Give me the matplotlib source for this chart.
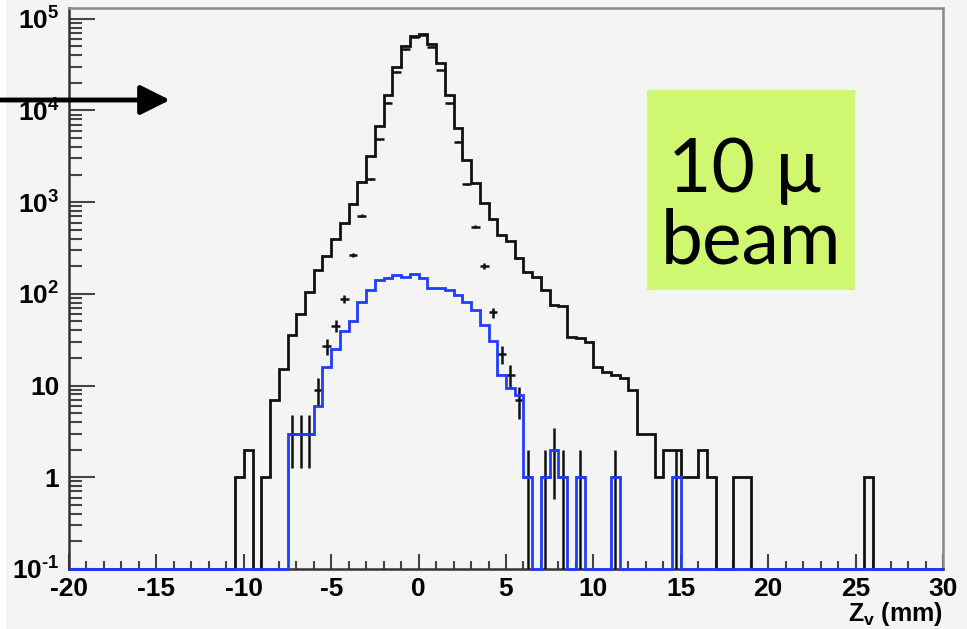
import numpy as np
import matplotlib.pyplot as plt
import matplotlib as mpl
from matplotlib.patches import Rectangle
from matplotlib.ticker import MultipleLocator, LogLocator, NullFormatter

mpl.rcParams['font.family'] = ['Liberation Sans', 'DejaVu Sans']
mpl.rcParams['mathtext.fontset'] = 'custom'
mpl.rcParams['mathtext.rm'] = 'Liberation Sans:bold'
mpl.rcParams['mathtext.it'] = 'Liberation Sans:bold'
mpl.rcParams['mathtext.bf'] = 'Liberation Sans:bold'

# binning: 100 bins of 0.5 mm between -20 and 30
edges = np.linspace(-20, 30, 101)

# all vertices (black histogram), bins 0..99
black_counts = np.zeros(100)
black_counts[19:78] = [1, 2, 0, 1, 7, 15, 36, 61, 106, 182,
                       259, 394, 589, 955, 1675, 3190, 6780, 14760, 30060, 50500,
                       64900, 68200, 52700, 32700, 14760, 6490, 2890, 1607, 989, 650,
                       439, 380, 244, 175, 154, 110, 76, 73, 34, 33,
                       30, 16, 14, 13, 12, 9, 3, 3, 1, 2,
                       2, 1, 1, 2, 1, 0, 0, 1, 1]
black_counts[91] = 1

# blue histogram, bins 0..99
blue_counts = np.zeros(100)
blue_counts[25:70] = [3, 3, 3, 6, 16, 25, 39, 50, 82, 110,
                      142, 148, 161, 152, 165, 150, 115, 117, 110, 97,
                      82, 66, 46, 31, 13, 9.5, 7.8, 1, 0, 1,
                      2, 1, 0, 1, 0, 0, 0, 1, 0, 0,
                      0, 0, 0, 0, 1]

# points with error bars (bin index, value)
pt_bins = [25, 26, 27, 28, 29, 30, 31, 32, 33, 34, 35, 36, 37, 38, 39, 40,
           41, 42, 43, 44, 45, 46, 47, 48, 49, 50, 51, 52, 54, 55, 56, 58, 62, 69]
pt_vals = [3, 3, 3, 9, 27, 45, 89, 266, 708, 1790, 4850, 12160, 26500, 46400, 62800, 66000,
           49700, 27700, 11970, 4570, 1578, 541, 203, 63, 22, 13, 7, 1, 1, 2, 1, 1, 1, 1]

xticks = [-20, -15, -10, -5, 0, 5, 10, 15, 20, 25, 30]
yticks = [1e-1, 1, 10, 1e2, 1e3, 1e4, 1e5]
ytick_labels = [r'$10^{\text{-}1}$', '1', '10', r'$10^{2}$', r'$10^{3}$', r'$10^{4}$', r'$10^{5}$']

ymin, ymax = 0.1, 1.31e5
bg = '#f4f4f4'

W, H = 967, 629
fig = plt.figure(figsize=(W / 100, H / 100), dpi=100, facecolor=bg)
ax = fig.add_axes([69 / W, 1 - 569 / H, (943 - 69) / W, (569 - 8) / H])
ax.set_facecolor(bg)
ax.set_yscale('log')
ax.set_xlim(-20, 30)
ax.set_ylim(ymin, ymax)

# empty bins sit on the frame bottom, like ROOT
blk = np.where(black_counts > 0, black_counts, ymin)
blu = np.where(blue_counts > 0, blue_counts, ymin)
ax.stairs(blk, edges, baseline=None, color='#111111', lw=2.0, zorder=3, clip_on=False)

centers = 0.5 * (edges[:-1] + edges[1:])
px = centers[pt_bins]
pv = np.array(pt_vals, dtype=float)
err = np.sqrt(pv)
lo = np.minimum(err, pv - 1e-3)
ax.errorbar(px, pv, xerr=0.25, yerr=[lo, err], fmt='none', ecolor='#111111',
            elinewidth=1.8, capsize=0, zorder=4)

ax.stairs(blu, edges, baseline=None, color='#1f3cff', lw=2.0, zorder=5, clip_on=False)

# axes style
for s in ['top', 'right']:
    ax.spines[s].set_color('#8a8a8a')
    ax.spines[s].set_linewidth(1.8)
for s in ['left', 'bottom']:
    ax.spines[s].set_color('#333333')
    ax.spines[s].set_linewidth(1.8)

ax.set_xticks(xticks)
ax.set_xticklabels([str(t) for t in xticks], fontsize=19, fontweight='bold')
ax.xaxis.set_minor_locator(MultipleLocator(1))
ax.set_yticks(yticks)
ax.set_yticklabels(ytick_labels, fontsize=19, fontweight='bold')
ax.yaxis.set_minor_locator(LogLocator(base=10, subs=np.arange(2, 10), numticks=30))
ax.yaxis.set_minor_formatter(NullFormatter())
ax.tick_params(axis='x', which='major', direction='in', length=11, width=1.5,
               color='#444444', pad=6, top=False)
ax.tick_params(axis='x', which='minor', direction='in', length=5.5, width=1.5,
               color='#444444', top=False)
ax.tick_params(axis='y', which='major', direction='in', length=19, width=1.5,
               color='#444444', pad=7, right=False)
ax.tick_params(axis='y', which='minor', direction='in', length=9.5, width=1.5,
               color='#444444', right=False)

fig.text(943 / W, 1 - 621 / H, r'$\mathrm{Z_{v}}$ (mm)', fontsize=18, fontweight='bold',
         ha='right', va='baseline')

# white strip on the left edge
fig.add_artist(Rectangle((0, 0), 6 / W, 1, transform=fig.transFigure,
                         facecolor='white', edgecolor='none', zorder=0))

# arrow
ax.annotate('', xy=(170, H - 100), xytext=(0, H - 100), xycoords='figure pixels',
            textcoords='figure pixels',
            arrowprops=dict(arrowstyle='-|>,head_length=0.9,head_width=0.45',
                            mutation_scale=20, lw=3.5, color='black',
                            shrinkA=0, shrinkB=0),
            annotation_clip=False, zorder=10)

# green label box
fig.add_artist(Rectangle((647 / W, 1 - 290 / H), 208 / W, 200 / H, transform=fig.transFigure,
                         facecolor='#cff770', edgecolor='none', zorder=6))
fig.text(746 / W, 1 - 192 / H, '10 \u00b5', fontsize=54, family=['Lato', 'DejaVu Sans'],
         ha='center', va='baseline', zorder=7)
fig.text(751 / W, 1 - 263 / H, 'beam', fontsize=54, family=['Lato', 'DejaVu Sans'],
         ha='center', va='baseline', zorder=7)

fig.savefig('out.png', dpi=100, facecolor=bg)
